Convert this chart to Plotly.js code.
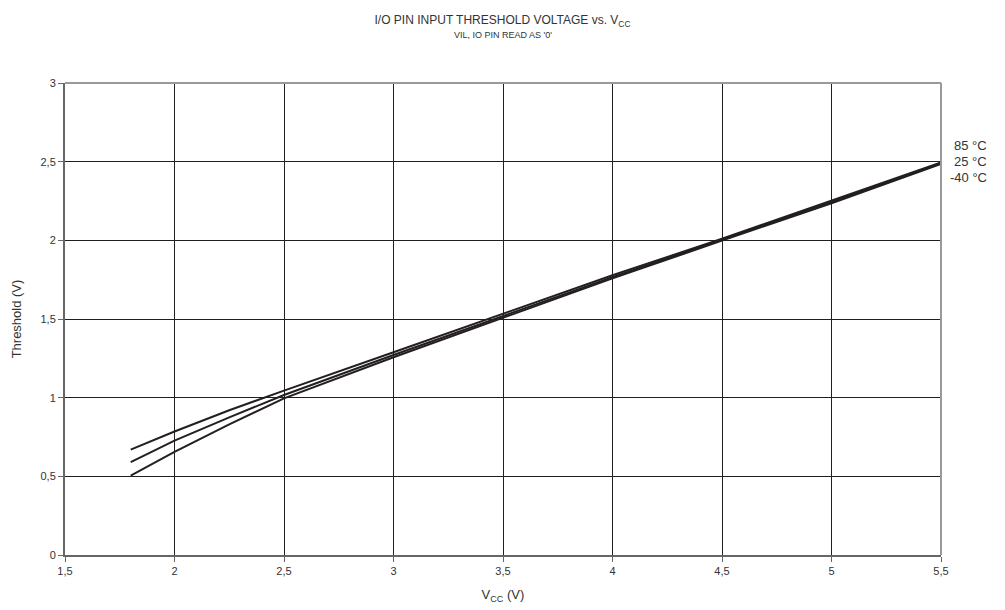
<!DOCTYPE html>
<html>
<head>
<meta charset="utf-8">
<script src="https://cdn.plot.ly/plotly-3.0.1.min.js"></script>
<style>html,body{margin:0;padding:0;background:#fff;}#chart{width:1005px;height:610px;}</style>
</head>
<body>
<div id="chart"></div>
<script>
const vcc = [1.8, 2.0, 2.25, 2.5, 3.0, 3.5, 4.0, 4.5, 5.0, 5.5];
const th85 = [0.67, 0.785, 0.92, 1.045, 1.289, 1.535, 1.778, 2.01, 2.252, 2.495];
const th25 = [0.59, 0.727, 0.875, 1.017, 1.271, 1.52, 1.766, 2.004, 2.243, 2.49];
const thM40 = [0.505, 0.655, 0.83, 0.996, 1.257, 1.51, 1.758, 1.998, 2.236, 2.486];
const seriesNames = ["85 °C", "25 °C", "-40 °C"];
const xTicks = [1.5, 2, 2.5, 3, 3.5, 4, 4.5, 5, 5.5];
const xTickText = ["1,5", "2", "2,5", "3", "3,5", "4", "4,5", "5", "5,5"];
const yTicks = [0, 0.5, 1, 1.5, 2, 2.5, 3];
const yTickText = ["0", "0,5", "1", "1,5", "2", "2,5", "3"];

const lineStyle = {color: "#231f20", width: 2};
const traces = [th85, th25, thM40].map((ys, i) => ({
  x: vcc, y: ys, type: "scatter", mode: "lines", name: seriesNames[i],
  line: lineStyle, showlegend: false, hoverinfo: "skip"
}));

const fam = "Liberation Sans, Arial, sans-serif";
const txt = "#333";
const layout = {
  width: 1005, height: 610,
  margin: {l: 65, r: 64, t: 83, b: 55},
  paper_bgcolor: "#fff", plot_bgcolor: "#fff",
  font: {family: fam, color: txt},
  showlegend: false,
  title: {
    text: "I/O PIN INPUT THRESHOLD VOLTAGE vs. V<sub>CC</sub>",
    font: {family: fam, size: 12, color: txt},
    x: 0.5, xanchor: "center", y: 0.967, yanchor: "middle"
  },
  xaxis: {
    range: [1.5, 5.5], tickvals: xTicks, ticktext: xTickText,
    showgrid: true, gridcolor: "#231f20", gridwidth: 1,
    showline: true, linecolor: "#666", linewidth: 2, mirror: false,
    ticks: "outside", ticklen: 5, tickcolor: "#666",
    tickfont: {family: fam, size: 11, color: txt},
    zeroline: false, fixedrange: true,
    title: {text: "V<sub>CC</sub> (V)", font: {family: fam, size: 13, color: txt}, standoff: 14}
  },
  yaxis: {
    range: [0, 3], tickvals: yTicks, ticktext: yTickText,
    showgrid: true, gridcolor: "#231f20", gridwidth: 1,
    showline: true, linecolor: "#666", linewidth: 2, mirror: false,
    ticks: "outside", ticklen: 5, tickcolor: "#666",
    tickfont: {family: fam, size: 11, color: txt},
    zeroline: false, fixedrange: true,
    title: {text: "Threshold (V)", font: {family: fam, size: 13, color: txt}, standoff: 16}
  },
  shapes: [
    {type: "line", xref: "paper", yref: "paper", x0: 0, x1: 1, y0: 1, y1: 1, line: {color: "#999", width: 2}},
    {type: "line", xref: "paper", yref: "paper", x0: 1, x1: 1, y0: 0, y1: 1, line: {color: "#999", width: 2}}
  ],
  annotations: seriesNames.map((n, i) => ({
    text: n, xref: "paper", yref: "paper", x: 1.055, y: 0.868 - i * 0.034,
    xanchor: "right", yanchor: "middle", showarrow: false,
    font: {family: fam, size: 13, color: txt}
  })).concat([{
    text: "VIL, IO PIN READ AS '0'", xref: "paper", yref: "paper",
    x: 0.5, y: 1 + (83 - 35) / 472, xanchor: "center", yanchor: "middle",
    showarrow: false, font: {family: fam, size: 9, color: txt}
  }])
};
Plotly.newPlot("chart", traces, layout, {staticPlot: true, displayModeBar: false});
</script>
</body>
</html>
